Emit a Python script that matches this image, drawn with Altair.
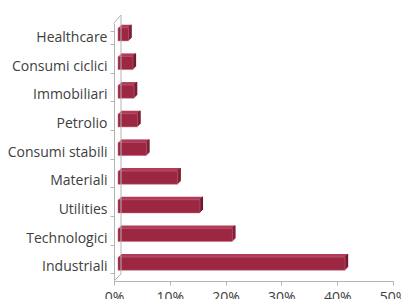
import altair as alt
import pandas as pd

categories = ["Healthcare", "Consumi ciclici", "Immobiliari", "Petrolio",
              "Consumi stabili", "Materiali", "Utilities", "Technologici", "Industriali"]
values = [1.9, 2.7, 2.9, 3.5, 5.1, 10.7, 14.7, 20.5, 40.7]
tick_values = [0, 10, 20, 30, 40, 50]

df = pd.DataFrame({"cat": categories, "val": values})

FRONT = "#9b2743"
TOP = "#b03c58"
SIDE = "#6e1a2f"
AXIS = "#b4b4b4"
DX, DY = 4, -3
DEPTH = 3

W, H = 279, 258

xs = alt.Scale(domain=[0, 50], nice=False, zero=True)
ys = alt.Scale(domain=categories, paddingInner=0.54, paddingOuter=0.27)

base = alt.Chart(df)

x_axis = alt.Axis(values=tick_values, labelExpr="datum.value + '%'", domainColor=AXIS,
                  tickColor=AXIS, tickSize=4, labelPadding=5, labelColor="#404040",
                  labelFont="Open Sans", labelFontSize=14, labelFlush=False,
                  grid=False, title=None)
y_axis = alt.Axis(domainColor=AXIS, tickColor=AXIS, tickSize=4, tickBand="extent",
                  labelPadding=3, labelColor="#404040", labelFont="Open Sans",
                  labelFontSize=14, grid=False, title=None)

X = alt.X("val:Q", scale=xs, axis=x_axis)
Y = alt.Y("cat:N", scale=ys, sort=categories, axis=y_axis)

layers = []
# extrusion (top face)
for i in range(DEPTH, 0, -1):
    layers.append(base.mark_bar(color=TOP, xOffset=DX + i, x2Offset=DX + i,
                                yOffset=DY - i, y2Offset=DY - i).encode(
        x=X, x2=alt.datum(0), y=Y))
# side face
for i in range(DEPTH, 0, -1):
    layers.append(base.mark_bar(color=SIDE, xOffset=DX + i - 1, x2Offset=DX + i,
                                yOffset=DY - i, y2Offset=DY - i).encode(
        x=X, x2=alt.X2("val:Q"), y=Y))
# front face
layers.append(base.mark_bar(color=FRONT, stroke="#c86a80", strokeWidth=0.5,
                            xOffset=DX, x2Offset=DX, yOffset=DY, y2Offset=DY).encode(
    x=X, x2=alt.datum(0), y=Y))

# 3D frame lines (back wall edge and corner diagonals)
frame = alt.Chart(pd.DataFrame({"a": [0]}))
layers.append(frame.mark_rule(color=AXIS, strokeWidth=1).encode(
    x=alt.value(7), x2=alt.value(7), y=alt.value(-8), y2=alt.value(H - 7)))
layers.append(frame.mark_rule(color=AXIS, strokeWidth=1).encode(
    x=alt.value(0), x2=alt.value(7), y=alt.value(0), y2=alt.value(-8)))
layers.append(frame.mark_rule(color=AXIS, strokeWidth=1).encode(
    x=alt.value(0), x2=alt.value(7), y=alt.value(H), y2=alt.value(H - 7)))

chart = alt.layer(*layers).properties(
    width=W, height=H,
    autosize=alt.AutoSizeParams(type="none"),
    padding={"left": 106, "top": 15, "right": 8, "bottom": 18},
).configure_view(stroke=None).configure_axis(domainWidth=1)

chart.save("out.html", embed_options={"renderer": "svg", "actions": False})
